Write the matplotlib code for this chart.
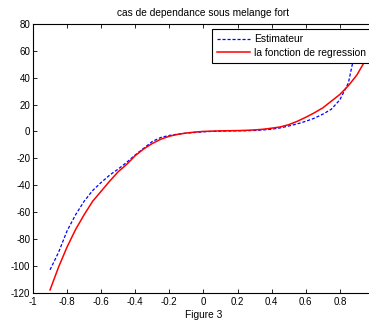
import matplotlib
matplotlib.use("Agg")
import matplotlib.pyplot as plt
import numpy as np

plt.rcParams['font.family'] = ['Liberation Sans', 'DejaVu Sans']
plt.rcParams['axes.unicode_minus'] = False

# estimateur (blue, dashed)
x_est = [-0.9, -0.85, -0.8, -0.75, -0.7, -0.65, -0.6, -0.55, -0.5, -0.45,
         -0.4, -0.35, -0.3, -0.25, -0.2, -0.15, -0.1, -0.05, 0, 0.05,
         0.1, 0.15, 0.2, 0.25, 0.3, 0.35, 0.4, 0.45, 0.5, 0.55,
         0.6, 0.65, 0.7, 0.75, 0.8, 0.85, 0.9]
y_est = [-103, -90, -74, -62, -52, -44, -38, -32.5, -28, -23,
         -17.5, -12.5, -7.5, -4.5, -3, -2, -1.3, -0.8, -0.3, 0,
         0.2, 0.3, 0.4, 0.5, 0.7, 1.1, 1.6, 2.6, 4, 5.6,
         7.5, 9.8, 12.8, 16.5, 23.5, 36, 66]

# fonction de regression (red, solid)
x_reg = [-0.9, -0.85, -0.8, -0.75, -0.7, -0.65, -0.6, -0.55, -0.5, -0.45,
         -0.4, -0.35, -0.3, -0.25, -0.2, -0.15, -0.1, -0.05, 0, 0.05,
         0.1, 0.15, 0.2, 0.25, 0.3, 0.35, 0.4, 0.45, 0.5, 0.55,
         0.6, 0.65, 0.7, 0.75, 0.8, 0.85, 0.9, 0.95, 1.0]
y_reg = [-118, -101, -86, -73, -62, -52, -44.5, -37, -30, -24.5,
         -18, -13, -9, -5.8, -3.6, -2.2, -1.2, -0.5, 0, 0.2,
         0.4, 0.5, 0.6, 0.8, 1.1, 1.6, 2.4, 3.3, 5, 7.5,
         10.5, 13.8, 17.5, 22.5, 27.5, 34, 42, 53, 65]

xticks = [-1, -0.8, -0.6, -0.4, -0.2, 0, 0.2, 0.4, 0.6, 0.8, 1]
xticklabels = ['-1', '-0.8', '-0.6', '-0.4', '-0.2', '0', '0.2', '0.4', '0.6', '0.8', '']
yticks = [-120, -100, -80, -60, -40, -20, 0, 20, 40, 60, 80]

fig = plt.figure(figsize=(3.69, 3.23), dpi=100)
ax = fig.add_axes([0.0894, 0.094, 0.924, 0.832])

ax.plot(x_est, y_est, color='blue', lw=0.9, linestyle=(0, (2.5, 1.5)), label='Estimateur')
ax.plot(x_reg, y_reg, color='red', lw=1.1, label='la fonction de regression')

ax.set_xlim(-1, 1)
ax.set_ylim(-120, 80)
ax.set_xticks(xticks)
ax.set_xticklabels(xticklabels)
ax.set_yticks(yticks)
ax.tick_params(direction='in', top=True, right=True, labelsize=7, length=3, width=0.6)
ax.tick_params(axis='x', pad=3)
ax.tick_params(axis='y', pad=2)
for s in ax.spines.values():
    s.set_linewidth(0.8)

ax.set_title('cas de dependance sous melange fort', fontsize=7.3, pad=6)
ax.set_xlabel('Figure 3', fontsize=7.3, labelpad=2)

leg = ax.legend(loc='upper left', bbox_to_anchor=(0.526, 0.981), fontsize=7.4,
                fancybox=False, framealpha=1, edgecolor='black',
                handlelength=3.2, handletextpad=0.35, borderpad=0.5,
                labelspacing=0.35, borderaxespad=0)
leg.get_frame().set_linewidth(0.8)

fig.savefig('out.png', dpi=100)
